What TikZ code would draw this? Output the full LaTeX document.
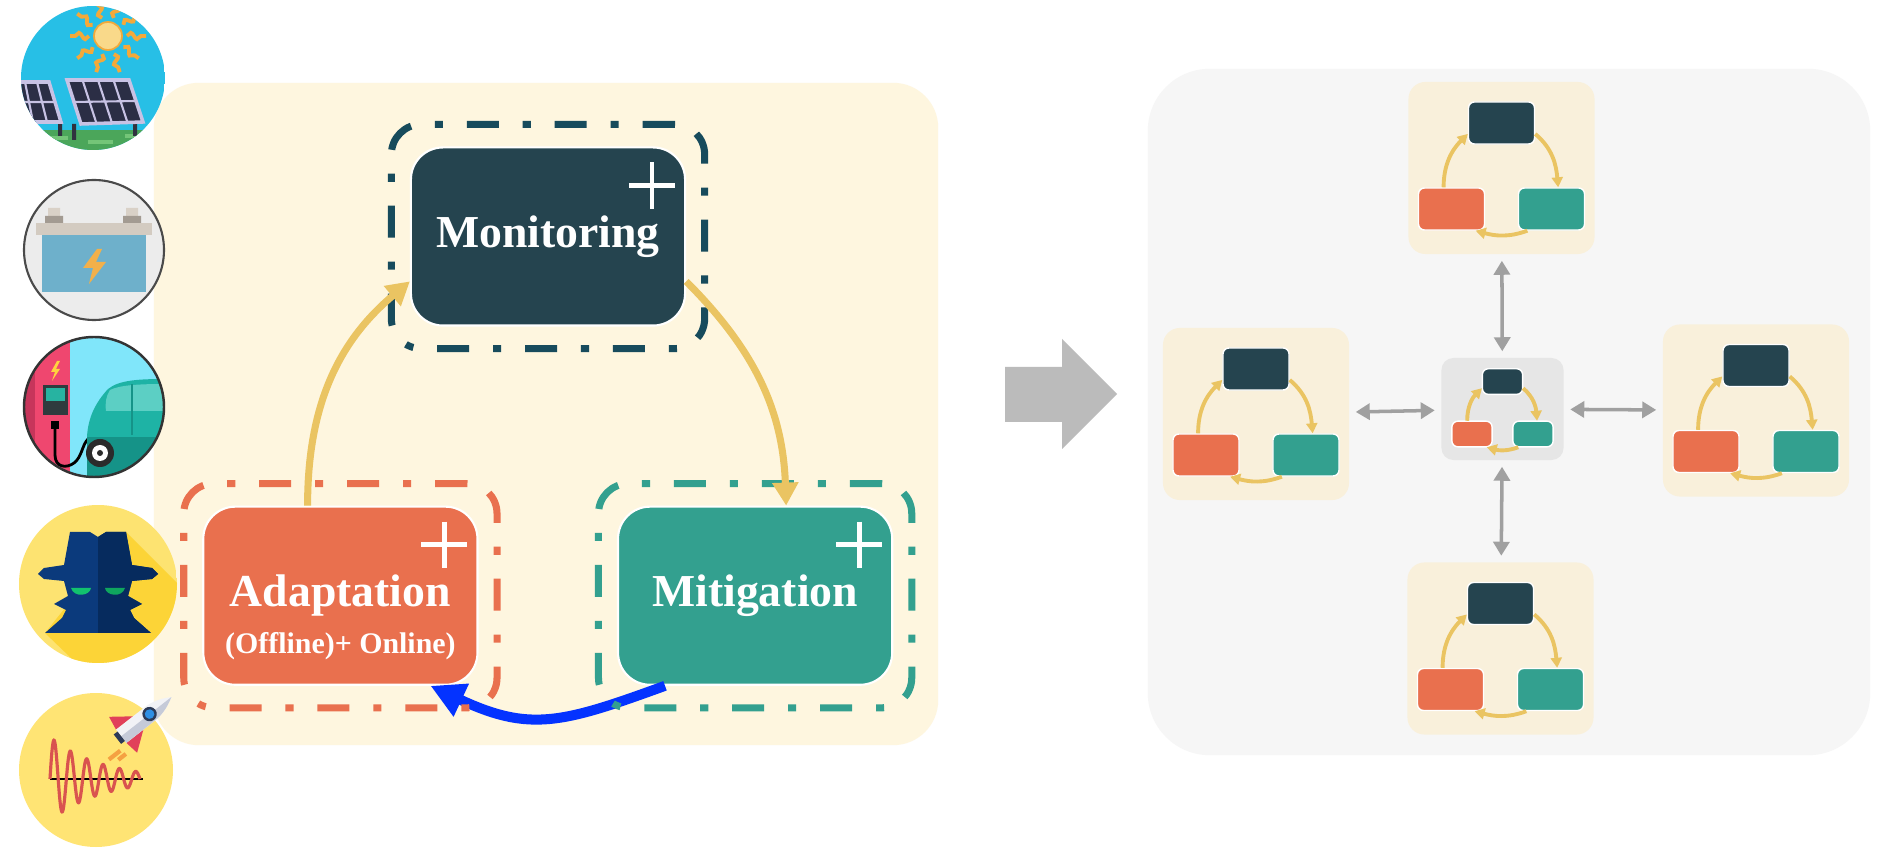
\documentclass[tikz,border=0pt]{standalone}
\usepackage{fontspec}
\newfontfamily\labelfont{Liberation Serif}
\usetikzlibrary{arrows.meta,positioning,fit,decorations.pathmorphing}

\definecolor{creambg}{HTML}{FEF6DF}
\definecolor{graybg}{HTML}{F6F6F6}
\definecolor{peerbg}{HTML}{F9F0DB}
\definecolor{hubbg}{HTML}{E6E6E6}
\definecolor{monc}{HTML}{25444F}
\definecolor{monline}{HTML}{174B5C}
\definecolor{adac}{HTML}{E9704E}
\definecolor{mitc}{HTML}{33A08F}
\definecolor{cyclegold}{HTML}{EAC462}
\definecolor{loopblue}{HTML}{0433FF}
\definecolor{bigarrow}{HTML}{BBBBBB}
\definecolor{linkgray}{HTML}{A0A0A0}
\definecolor{sky}{HTML}{27BFE6}
\definecolor{grass}{HTML}{4BA65A}
\definecolor{grasslt}{HTML}{74C578}
\definecolor{sunfill}{HTML}{F9D98A}
\definecolor{sunray}{HTML}{F3A93A}
\definecolor{solarpanel}{HTML}{2B2E45}
\definecolor{solarframe}{HTML}{C7C2E4}
\definecolor{solarpost}{HTML}{30323F}
\definecolor{batbg}{HTML}{ECECEC}
\definecolor{batrim}{HTML}{4A4A4A}
\definecolor{batlid}{HTML}{D3CBC1}
\definecolor{termlt}{HTML}{D9D1C7}
\definecolor{termdk}{HTML}{A39B92}
\definecolor{batbody}{HTML}{6EB0CB}
\definecolor{batbolt}{HTML}{F2B04A}
\definecolor{evsky}{HTML}{80E6FA}
\definecolor{station}{HTML}{EF476F}
\definecolor{stationdk}{HTML}{C7355B}
\definecolor{screenc}{HTML}{2F3B3E}
\definecolor{screenin}{HTML}{27B3A1}
\definecolor{evbolt}{HTML}{FFD23F}
\definecolor{carbody}{HTML}{1EB3A5}
\definecolor{cardark}{HTML}{159388}
\definecolor{carglass}{HTML}{5CCFC4}
\definecolor{tyre}{HTML}{2B2B2B}
\definecolor{evrim}{HTML}{333333}
\definecolor{spybg}{HTML}{FDE371}
\definecolor{spyshadow}{HTML}{FCD437}
\definecolor{spylt}{HTML}{0B3A7C}
\definecolor{spydk}{HTML}{062B5E}
\definecolor{spyeye}{HTML}{12C26E}
\definecolor{sigbg}{HTML}{FFE474}
\definecolor{wavered}{HTML}{D9534F}
\definecolor{rocketbody}{HTML}{F1F2F6}
\definecolor{rocketshade}{HTML}{C5CAD8}
\definecolor{rocketfin}{HTML}{E1405A}
\definecolor{rocketglass}{HTML}{2F8FE4}
\definecolor{rocketrim}{HTML}{2D3A57}
\definecolor{rocketflame}{HTML}{F5A142}

\tikzstyle{stagebox} = [rounded corners=0.32cm, minimum width=2.74cm, minimum height=1.78cm, inner sep=0, draw=white, line width=0.6pt, text=white, font=\labelfont\bfseries\fontsize{13}{15}\selectfont]
\tikzstyle{subnote} = [inner sep=0, text=white, font=\labelfont\bfseries\fontsize{8.5}{10}\selectfont]
\tikzstyle{stageframe} = [rounded corners=0.3cm, line width=2pt, dash pattern=on 9.1pt off 6.8pt on 2.3pt off 6.8pt, inner xsep=0.185cm, inner ysep=0.22cm]
\tikzstyle{cyclearrow} = [draw=cyclegold, line width=2pt, -{Triangle[length=0.23cm, width=0.25cm]}]
\tikzstyle{backarrow} = [draw=loopblue, line width=2.85pt, -{Triangle[length=0.34cm, width=0.34cm]}]
\tikzstyle{plusspot} = [minimum size=0.46cm, inner sep=0, outer sep=0]
\tikzstyle{plusline} = [draw=white, line width=1.4pt]
\tikzstyle{peerpanel} = [fill=peerbg, rounded corners=0.17cm, minimum width=1.86cm, minimum height=1.72cm]
\tikzstyle{hubpanel} = [fill=hubbg, rounded corners=0.12cm, minimum width=1.22cm, minimum height=1.02cm]
\tikzstyle{minibox} = [rounded corners=0.06cm, minimum width=0.66cm, minimum height=0.42cm, inner sep=0, draw=white, line width=0.4pt]
\tikzstyle{miniarrow} = [draw=cyclegold, line width=1.1pt, -{Triangle[length=0.1cm, width=0.11cm]}]
\tikzstyle{link} = [draw=linkgray, line width=1pt, <->, >={Triangle[length=0.14cm, width=0.16cm]}, shorten >=0.06cm, shorten <=0.06cm]

\tikzset{
  pics/minicycle/.style={code={
    \node[minibox, fill=monc] (-mon) at (0,45) {};
    \node[minibox, fill=adac] (-ada) at (-50,-41) {};
    \node[minibox, fill=mitc] (-mit) at (50,-41) {};
    \draw[miniarrow] (-ada.110) to[out=90, in=225] (-mon.198);
    \draw[miniarrow] (-mon.-18) to[out=-40, in=95] (-mit.73);
    \draw[miniarrow] (-mit.222) to[out=200, in=-15] (-ada.-42);
  }}
}

\newcommand{\spyoutline}{(-28,52) -- (-8,52) -- (0,47) -- (8,52) -- (28,52) -- (34,19) -- (54,16) -- (60,10) -- (54,5) -- (34,3) -- (30,-12) -- (44,-20) -- (32,-26) -- (36,-34) -- (53,-49) -- (-53,-49) -- (-36,-34) -- (-32,-26) -- (-44,-20) -- (-30,-12) -- (-34,3) -- (-54,5) -- (-60,10) -- (-54,16) -- (-34,19) -- cycle}

\begin{document}
\begin{tikzpicture}[x=0.01cm, y=0.01cm, node distance=3.59cm]
  \useasboundingbox (0,0) rectangle (1878,848);
  \fill[white] (0,0) rectangle (1878,848);

  \node[fill=creambg, rounded corners=0.45cm, minimum width=7.84cm, minimum height=6.62cm] (stagepanel) at (546,434) {};
  \node[fill=graybg, rounded corners=0.62cm, minimum width=7.22cm, minimum height=6.86cm] (netpanel) at (1509,436) {};

  \node[stagebox, fill=monc] (mon) at (548,611.5) {Monitoring};
  \node[stagebox, fill=adac, below of=mon, xshift=-2.075cm] (ada) {Adaptation};
  \node[stagebox, fill=mitc, below of=mon, xshift=2.07cm] (mit) {Mitigation};
  \node[subnote] (adanote) at ([yshift=-0.505cm]ada.center) {(Offline)+ Online)};

  \draw[backarrow] (mit.225) to[out=200, in=-25, looseness=1.2] (ada.-45);

  \node[stageframe, draw=monline, fit=(mon)] (monframe) {};
  \node[stageframe, draw=adac, fit=(ada)] (adaframe) {};
  \node[stageframe, draw=mitc, fit=(mit)] (mitframe) {};

  \draw[cyclearrow] (ada.110) to[out=90, in=220] (mon.198);
  \draw[cyclearrow] (mon.-18) to[out=-45, in=92] (mit.71);

  \foreach \b in {mon,ada,mit}
    \node[plusspot] (\b-plus) at ([shift={(104,51)}]\b.center) {};
  \foreach \b in {mon,ada,mit}
    \draw[plusline] (\b-plus.north) -- (\b-plus.south) (\b-plus.west) -- (\b-plus.east);

  \fill[bigarrow] (1005,481) -- (1062,481) -- (1062,509) -- (1117,454) -- (1062,399) -- (1062,426) -- (1005,426) -- cycle;

  \node[hubpanel] (hub) at (1502.5,439) {};
  \node[peerpanel] (peerN) at (1501.5,680) {};
  \node[peerpanel] (peerW) at (1256,434) {};
  \node[peerpanel] (peerE) at (1756,437.5) {};
  \node[peerpanel] (peerS) at (1500.5,199.5) {};
  \pic (cycN) at (peerN) {minicycle};
  \pic (cycW) at (peerW) {minicycle};
  \pic (cycE) at (peerE) {minicycle};
  \pic (cycS) at (peerS) {minicycle};
  \pic[scale=0.61, transform shape] (cycH) at (hub) {minicycle};
  \draw[link] (peerN) -- (hub);
  \draw[link] (peerS) -- (hub);
  \draw[link] (peerW) -- (hub);
  \draw[link] (peerE) -- (hub);

  \begin{scope}[shift={(93,770)}]
    \clip (0,0) circle (72);
    \fill[sky] (-72,-72) rectangle (72,72);
    \fill[grass] (-72,-52) rectangle (72,-72);
    \draw[grasslt, line width=1.2pt] (-45,-60) -- (-25,-60) (-5,-64) -- (20,-64) (32,-58) -- (52,-58);
    \begin{scope}[shift={(15,42)}]
      \foreach \a in {0,36,...,324}
        \draw[sunray, line width=1.1pt, decorate, decoration={snake, amplitude=0.9pt, segment length=3.5pt}] (\a:19) -- (\a:38);
      \fill[sunfill, draw=sunray, line width=0.5pt] (0,0) circle (14);
    \end{scope}
    \fill[solarpost] (-35,-42) rectangle (-31,-58) (-21,-46) rectangle (-17,-62) (40,-44) rectangle (44,-58);
    \filldraw[fill=solarpanel, draw=solarframe, line width=1pt] (-82,-4) -- (-44,-4) -- (-32,-44) -- (-76,-44) -- cycle;
    \filldraw[fill=solarpanel, draw=solarframe, line width=1pt] (-26,-2) -- (36,-2) -- (50,-44) -- (-12,-46) -- cycle;
    \draw[solarframe, line width=0.6pt] (-79,-24) -- (-38,-24) (-68,-4) -- (-60,-44) (-56,-4) -- (-46,-44) (-19,-24) -- (43,-23) (-10.5,-2) -- (3.5,-45.5) (5,-2) -- (19,-45) (20.5,-2) -- (34.5,-44.5);
  \end{scope}

  \begin{scope}[shift={(94,598)}]
    \fill[batbg] (0,0) circle (70);
    \fill[termlt] (-46,42) rectangle (-34,34) (32,42) rectangle (44,34);
    \fill[termdk] (-49,34) rectangle (-31,27) (29,34) rectangle (47,27);
    \fill[batlid] (-58,27) rectangle (58,15);
    \fill[batbody] (-52,15) rectangle (52,-42);
    \fill[batbolt] (3,1) -- (-11,-18) -- (-1,-18) -- (-5,-34) -- (12,-12) -- (2,-12) -- (8,1) -- cycle;
    \draw[batrim, line width=0.6pt] (0,0) circle (70);
  \end{scope}

  \begin{scope}[shift={(94,441)}]
    \begin{scope}
      \clip (0,0) circle (70);
      \fill[evsky] (-70,-70) rectangle (70,70);
      \fill[station] (-70,-70) rectangle (-24,70);
      \fill[stationdk] (-70,-70) rectangle (-59,70);
      \fill[evbolt] (-37,46) -- (-43,35) -- (-39,35) -- (-42,26) -- (-34,38) -- (-38,38) -- (-34,46) -- cycle;
      \fill[screenc] (-51,22) rectangle (-26,-8);
      \fill[screenin] (-48,19) rectangle (-29,6);
      \fill[black] (-43,-14) rectangle (-35,-22);
      \draw[black, line width=0.8pt] (-39,-22) -- (-39,-48) .. controls (-39,-60) and (-28,-62) .. (-20,-56) .. controls (-12,-50) and (-12,-38) .. (-6,-32);
      \fill[carbody] (-7,-70) -- (-7,-30) .. controls (-6,-10) and (2,5) .. (14,18) .. controls (25,27) and (45,28) .. (72,28) -- (72,-70) -- cycle;
      \fill[cardark] (-7,-70) -- (-7,-30) -- (72,-30) -- (72,-70) -- cycle;
      \fill[carglass] (16,17) .. controls (26,22) and (45,23) .. (72,23) -- (72,-4) -- (12,-4) .. controls (11,4) and (12,11) .. (16,17) -- cycle;
      \draw[cardark, line width=0.8pt] (38,23) -- (38,-28);
      \fill[tyre] (6,-46) circle (14);
      \fill[white] (6,-46) circle (8);
      \fill[tyre] (6,-46) circle (3);
    \end{scope}
    \draw[evrim, line width=0.7pt] (0,0) circle (70);
  \end{scope}

  \begin{scope}[shift={(98,264)}]
    \begin{scope}
      \clip (0,0) circle (79);
      \fill[spybg] (-79,-79) rectangle (79,79);
      \fill[spyshadow] (28,52) -- (150,-70) -- (50,-148) -- (-53,-49) -- cycle;
      \fill[spylt] \spyoutline;
      \clip (0,-80) rectangle (80,80);
      \fill[spydk] \spyoutline;
    \end{scope}
    \fill[spyeye] (-27,-4) -- (-7,-4) .. controls (-8,-12) and (-24,-14) .. (-27,-4) -- cycle;
    \fill[spyeye!85!black] (7,-4) -- (27,-4) .. controls (24,-14) and (8,-12) .. (7,-4) -- cycle;
  \end{scope}

  \begin{scope}[shift={(96,78)}]
    \fill[sigbg] (0,0) circle (77);
    \draw[black, line width=0.7pt] (-46,-9) -- (47,-9);
    \draw[wavered, line width=0.9pt] plot[domain=-46:44, samples=300] (\x, {-9+42*exp(-(\x+46)/50)*sin(22*(\x+46))});
    \begin{scope}[shift={(46,50)}, rotate=38, scale=1.2]
      \draw[rocketflame, line width=1.2pt] (-30,-9) -- (-42,-9) (-28,-14) -- (-36,-14);
      \fill[rocketfin] (-4,7) -- (-20,19) -- (-22,7) -- cycle;
      \fill[rocketfin] (-4,-7) -- (-20,-19) -- (-22,-7) -- cycle;
      \fill[rocketbody] (-22,-7) -- (8,-7) .. controls (18,-7) and (26,-3) .. (31,0) .. controls (26,3) and (18,7) .. (8,7) -- (-22,7) -- cycle;
      \fill[rocketshade] (-22,-7) -- (8,-7) .. controls (18,-7) and (26,-3) .. (31,0) -- (-22,0) -- cycle;
      \fill[rocketrim] (8,0) circle (6);
      \fill[rocketglass] (8,0) circle (4);
      \fill[rocketrim] (-26,-5) rectangle (-22,5);
    \end{scope}
  \end{scope}
\end{tikzpicture}
\end{document}
